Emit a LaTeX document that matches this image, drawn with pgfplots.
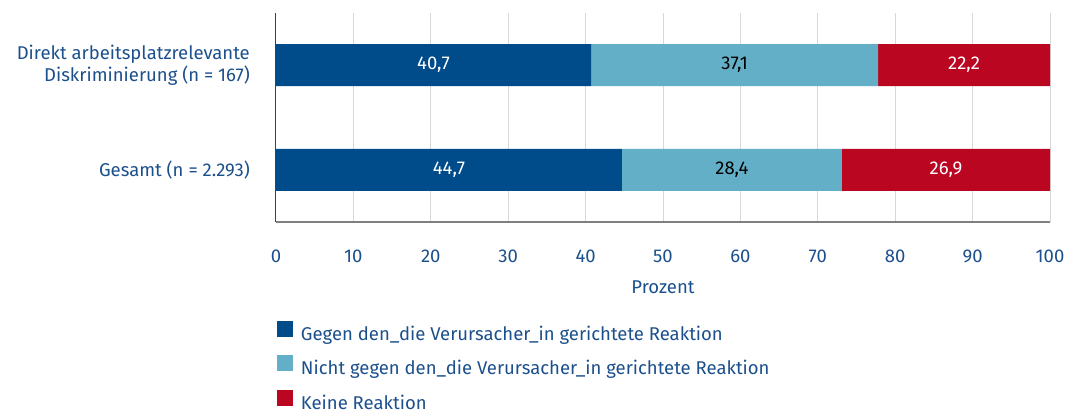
\documentclass[border=0pt]{standalone}
\usepackage{pgfplots}
\pgfplotsset{compat=1.18}
\usepackage{fontspec}
\setmainfont{Fira Sans}
\definecolor{txt}{RGB}{28,80,140}
\definecolor{c1}{RGB}{0,75,137}
\definecolor{c2}{RGB}{99,175,200}
\definecolor{c3}{RGB}{186,6,32}
\definecolor{gridc}{RGB}{215,215,215}
\pgfplotsset{geom/.style={at={(0pt,0pt)}, anchor=south west,
  scale only axis, width=774pt, height=209pt,
  xmin=0, xmax=100, ymin=-0.5, ymax=1.5}}
\begin{document}
\begin{tikzpicture}
\useasboundingbox (-276pt,-190pt) rectangle (798pt,222pt);
\begin{axis}[
  geom,
  xbar stacked, bar width=42pt,
  axis x line*=bottom, axis y line*=left,
  x axis line style={draw=gray, line width=1.5pt, -},
  y axis line style={draw=darkgray, line width=1pt, -},
  xtick={0,10,...,100}, xmajorgrids, grid style={gridc, line width=1pt},
  ytick={0,1},
  yticklabels={Gesamt (n = 2.293), {Direkt arbeitsplatzrelevante\\Diskriminierung (n = 167)}},
  major tick length=0pt,
  /pgf/number format/assume math mode=true,
  xticklabel style={anchor=center, yshift=-34pt, font=\fontsize{18.5}{22}\selectfont, text=txt, inner sep=0pt},
  yticklabel style={anchor=east, xshift=-26pt, align=right, font=\fontsize{18.5}{22}\selectfont, text=txt, inner sep=0pt},
  xlabel={Prozent},
  xlabel style={at={(axis description cs:0.5,0)}, anchor=center, yshift=-65pt, font=\fontsize{18.5}{22}\selectfont, text=txt},
  legend style={at={(0.001,-0.472)}, anchor=north west, draw=none, fill=none, inner sep=0pt,
    font=\fontsize{18.5}{22}\selectfont, text=txt, legend cell align=left,
    nodes={inner sep=0pt, text height=13pt, text depth=4pt},
    /tikz/row sep=11pt, /tikz/column sep=8pt},
  legend image code/.code={\fill[#1] (0pt,-1pt) rectangle (16pt,15pt);},
]
\addplot[fill=c1, draw=none] coordinates {(44.7,0) (40.7,1)};
\addplot[fill=c2, draw=none] coordinates {(28.4,0) (37.1,1)};
\addplot[fill=c3, draw=none] coordinates {(26.9,0) (22.2,1)};
\legend{Gegen den\_die Verursacher\_in gerichtete Reaktion, Nicht gegen den\_die Verursacher\_in gerichtete Reaktion, Keine Reaktion}
\end{axis}
\begin{axis}[
  geom, hide axis,
  nodes near coords, point meta=explicit symbolic,
  every node near coord/.append style={anchor=center, inner sep=0pt, font=\fontsize{18.5}{22}\selectfont},
]
\addplot[only marks, mark=none, every node near coord/.append style={text=white}] coordinates {(22.35,0) [44,7] (20.35,1) [40,7]};
\addplot[only marks, mark=none, every node near coord/.append style={text=black}] coordinates {(58.9,0) [28,4] (59.25,1) [37,1]};
\addplot[only marks, mark=none, every node near coord/.append style={text=white}] coordinates {(86.55,0) [26,9] (88.9,1) [22,2]};
\end{axis}
\end{tikzpicture}
\end{document}
